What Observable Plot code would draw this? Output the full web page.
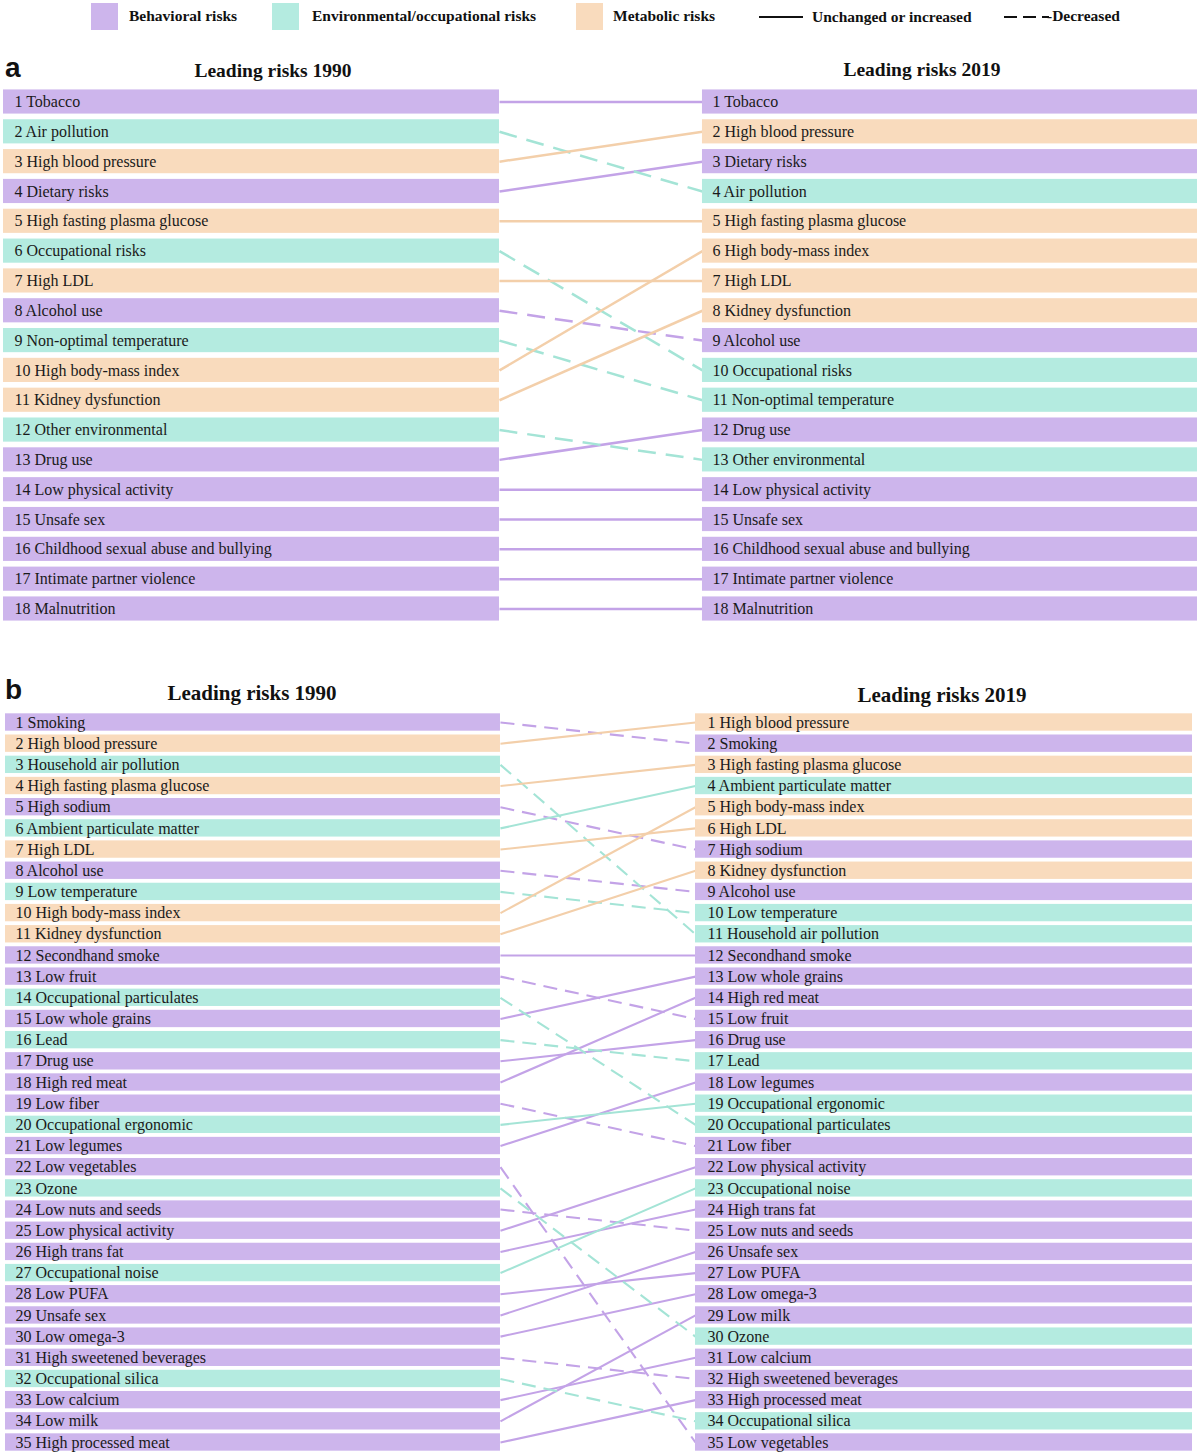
<!DOCTYPE html>
<html>
<head>
<meta charset="utf-8">
<script src="https://cdn.jsdelivr.net/npm/d3@7"></script>
<script src="https://cdn.jsdelivr.net/npm/@observablehq/plot@0.6"></script>
<style>
  body { margin: 0; background: #fff; }
  #root { position: relative; width: 1200px; height: 1453px; font-family: "Liberation Serif", "Times New Roman", serif; color: #111; overflow: hidden; }
  .abs { position: absolute; white-space: nowrap; }
  .title { font-weight: bold; transform: translate(-50%, -50%); }
  .panel-letter { font-family: "Liberation Sans", Arial, sans-serif; font-weight: bold; font-size: 28px; transform: translateY(-50%); }
  .leg-text { font-weight: bold; font-size: 15.5px; transform: translateY(-50%); }
  svg { overflow: visible; }
  svg text { font-family: "Liberation Serif", "Times New Roman", serif; }
</style>
</head>
<body>
<div id="root"></div>
<script>
// ---------------- DATA ----------------
const categories = ["Behavioral risks", "Environmental/occupational risks", "Metabolic risks"];
const barColors = ["#cdb5ec", "#b4ebe0", "#f9dbbd"];
const lineColors = ["#c3a3e7", "#a4e4d6", "#f3cfaa"];
const lineLegend = ["Unchanged or increased", "Decreased"];

const behavioralRisks = [
  "Tobacco", "Dietary risks", "Alcohol use", "Drug use", "Low physical activity", "Unsafe sex",
  "Childhood sexual abuse and bullying", "Intimate partner violence", "Malnutrition",
  "Smoking", "High sodium", "Secondhand smoke", "Low fruit", "Low whole grains", "High red meat",
  "Low fiber", "Low legumes", "Low vegetables", "Low nuts and seeds", "High trans fat", "Low PUFA",
  "Low omega-3", "High sweetened beverages", "Low calcium", "Low milk", "High processed meat"
];
const environmentalRisks = [
  "Air pollution", "Occupational risks", "Non-optimal temperature", "Other environmental",
  "Household air pollution", "Ambient particulate matter", "Low temperature", "Occupational particulates",
  "Lead", "Occupational ergonomic", "Ozone", "Occupational noise", "Occupational silica"
];
const metabolicRisks = [
  "High blood pressure", "High fasting plasma glucose", "High LDL", "High body-mass index", "Kidney dysfunction"
];

const risksA1990 = [
  "Tobacco", "Air pollution", "High blood pressure", "Dietary risks", "High fasting plasma glucose",
  "Occupational risks", "High LDL", "Alcohol use", "Non-optimal temperature", "High body-mass index",
  "Kidney dysfunction", "Other environmental", "Drug use", "Low physical activity", "Unsafe sex",
  "Childhood sexual abuse and bullying", "Intimate partner violence", "Malnutrition"
];
const risksA2019 = [
  "Tobacco", "High blood pressure", "Dietary risks", "Air pollution", "High fasting plasma glucose",
  "High body-mass index", "High LDL", "Kidney dysfunction", "Alcohol use", "Occupational risks",
  "Non-optimal temperature", "Drug use", "Other environmental", "Low physical activity", "Unsafe sex",
  "Childhood sexual abuse and bullying", "Intimate partner violence", "Malnutrition"
];

const risksB1990 = [
  "Smoking", "High blood pressure", "Household air pollution", "High fasting plasma glucose", "High sodium",
  "Ambient particulate matter", "High LDL", "Alcohol use", "Low temperature", "High body-mass index",
  "Kidney dysfunction", "Secondhand smoke", "Low fruit", "Occupational particulates", "Low whole grains",
  "Lead", "Drug use", "High red meat", "Low fiber", "Occupational ergonomic",
  "Low legumes", "Low vegetables", "Ozone", "Low nuts and seeds", "Low physical activity",
  "High trans fat", "Occupational noise", "Low PUFA", "Unsafe sex", "Low omega-3",
  "High sweetened beverages", "Occupational silica", "Low calcium", "Low milk", "High processed meat"
];
const risksB2019 = [
  "High blood pressure", "Smoking", "High fasting plasma glucose", "Ambient particulate matter", "High body-mass index",
  "High LDL", "High sodium", "Kidney dysfunction", "Alcohol use", "Low temperature",
  "Household air pollution", "Secondhand smoke", "Low whole grains", "High red meat", "Low fruit",
  "Drug use", "Lead", "Low legumes", "Occupational ergonomic", "Occupational particulates",
  "Low fiber", "Low physical activity", "Occupational noise", "High trans fat", "Low nuts and seeds",
  "Unsafe sex", "Low PUFA", "Low omega-3", "Low milk", "Ozone",
  "Low calcium", "High sweetened beverages", "High processed meat", "Occupational silica", "Low vegetables"
];

// ---------------- LAYOUT ----------------
const serif = "Liberation Serif";
function catOf(name) {
  if (behavioralRisks.includes(name)) return categories[0];
  if (environmentalRisks.includes(name)) return categories[1];
  return categories[2];
}

const root = document.getElementById("root");
function addDiv(cls, text, left, top, style = "") {
  const d = document.createElement("div");
  d.className = "abs " + cls;
  d.textContent = text;
  d.style.cssText += `left:${left}px;top:${top}px;${style}`;
  root.appendChild(d);
  return d;
}

// Legend
const legBoxX = [91, 272, 576];
const legTextX = [129, 312, 613];
categories.forEach((c, i) => {
  const b = document.createElement("div");
  b.className = "abs";
  b.style.cssText = `left:${legBoxX[i]}px;top:3px;width:27px;height:27px;background:${barColors[i]};`;
  root.appendChild(b);
  addDiv("leg-text", c, legTextX[i], 16);
});
function legLine(x, w, dash) {
  const ns = "http://www.w3.org/2000/svg";
  const s = document.createElementNS(ns, "svg");
  s.setAttribute("width", w); s.setAttribute("height", 6);
  s.style.cssText = `position:absolute;left:${x}px;top:14px;`;
  const l = document.createElementNS(ns, "line");
  l.setAttribute("x1", 0); l.setAttribute("x2", w); l.setAttribute("y1", 3); l.setAttribute("y2", 3);
  l.setAttribute("stroke", "#111"); l.setAttribute("stroke-width", 2);
  if (dash) l.setAttribute("stroke-dasharray", dash);
  s.appendChild(l);
  root.appendChild(s);
}
legLine(759, 44, null);
addDiv("leg-text", lineLegend[0], 812, 17);
legLine(1004, 45, "13,6");
addDiv("leg-text", "-" + lineLegend[1], 1047, 16, "");

// Panels
const panels = [
  {
    letter: "a", letterY: 68, titles: ["Leading risks 1990", "Leading risks 2019"],
    titlePos: [[273, 71], [922, 70]], titleSize: 19.5,
    r1990: risksA1990, r2019: risksA2019,
    top: 84, height: 545, xRange: [3, 1197], leftEnd: 0.4154, rightStart: 0.5854,
    yRange: [17.5, 524.5], half: 0.405, lineWidth: 2.5, dash: "18,10", fontSize: 16,
    dxLeft: 11, dxRight: 10
  },
  {
    letter: "b", letterY: 690, titles: ["Leading risks 1990", "Leading risks 2019"],
    titlePos: [[252, 693], [942, 695]], titleSize: 21,
    r1990: risksB1990, r2019: risksB2019,
    top: 705, height: 748, xRange: [5, 1192], leftEnd: 0.417, rightStart: 0.5813,
    yRange: [17, 737], half: 0.41, lineWidth: 2.1, dash: "14,8", fontSize: 16,
    dxLeft: 10, dxRight: 12
  }
];

panels.forEach(p => {
  addDiv("panel-letter", p.letter, 5, p.letterY);
  p.titles.forEach((t, i) => addDiv("title", t, p.titlePos[i][0], p.titlePos[i][1], `font-size:${p.titleSize}px;`));

  const n = p.r1990.length;
  const leftRows = p.r1990.map((name, i) => ({rank: i + 1, name, cat: catOf(name), x1: 0, x2: p.leftEnd, label: `${i + 1} ${name}`}));
  const rightRows = p.r2019.map((name, i) => ({rank: i + 1, name, cat: catOf(name), x1: p.rightStart, x2: 1, label: `${i + 1} ${name}`}));
  const links = p.r1990.map((name, i) => {
    const r2 = p.r2019.indexOf(name) + 1;
    return {name, r1: i + 1, r2, cat: catOf(name), decreased: r2 > i + 1};
  });

  const linkMarks = [];
  categories.forEach((c, k) => {
    [false, true].forEach(dec => {
      linkMarks.push(Plot.link(links.filter(d => d.cat === c && d.decreased === dec), {
        x1: () => p.leftEnd, x2: () => p.rightStart, y1: "r1", y2: "r2",
        stroke: lineColors[k], strokeWidth: p.lineWidth,
        strokeDasharray: dec ? p.dash : null
      }));
    });
  });

  const textOpts = (dx) => ({
    x: "x1", y: "rank", text: "label", textAnchor: "start", dx,
    fontSize: p.fontSize, fontFamily: serif, fill: "#1a1a1a"
  });

  const chart = Plot.plot({
    width: 1200, height: p.height,
    margin: 0,
    x: {domain: [0, 1], range: p.xRange, axis: null},
    y: {domain: [1, n], range: p.yRange, axis: null},
    color: {domain: categories, range: barColors},
    style: {background: "transparent", overflow: "visible", fontFamily: serif},
    marks: [
      ...linkMarks,
      Plot.rect(leftRows.concat(rightRows), {x1: "x1", x2: "x2", y1: d => d.rank - p.half, y2: d => d.rank + p.half, fill: "cat"}),
      Plot.text(leftRows, textOpts(p.dxLeft)),
      Plot.text(rightRows, textOpts(p.dxRight))
    ]
  });
  chart.style.position = "absolute";
  chart.style.left = "0px";
  chart.style.top = p.top + "px";
  chart.style.fontFamily = serif;
  root.appendChild(chart);
});
</script>
</body>
</html>
